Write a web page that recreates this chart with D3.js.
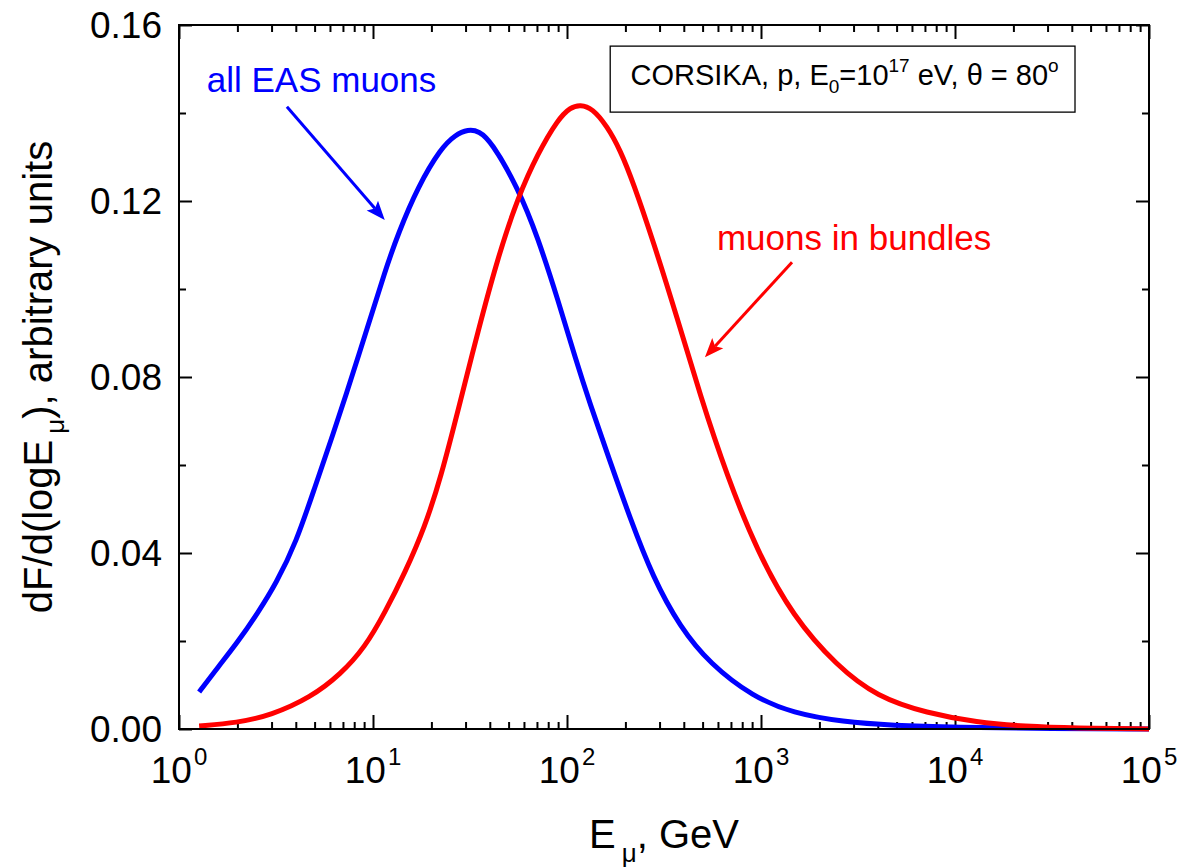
<!DOCTYPE html>
<html><head><meta charset="utf-8">
<script src="https://cdn.jsdelivr.net/npm/d3@7"></script>
<style>
body{margin:0;background:#fff}
text{font-family:"Liberation Sans",Arial,Helvetica,sans-serif}
</style>
</head><body>
<svg id="c" width="1179" height="868"></svg>
<script>
// ---- data ----
const blueE = [1.27, 1.59, 1.99, 2.55, 3.16, 4.01, 5.02, 6.08, 7.18, 9.42, 11.5, 13.5, 17.1, 22.4, 26.5, 30.9, 35.2, 40.6, 55.9, 70.9, 89.9, 111, 131, 167, 211, 277, 382, 546, 910, 1462, 2648, 4786, 10000, 31600, 100000];
const blueV = [0.0084, 0.0141, 0.0195, 0.0264, 0.0330, 0.0423, 0.0550, 0.0657, 0.0752, 0.0916, 0.1039, 0.1127, 0.1234, 0.1320, 0.1350, 0.1363, 0.1359, 0.1336, 0.1230, 0.1116, 0.0975, 0.0839, 0.0741, 0.0607, 0.0480, 0.0345, 0.0232, 0.0148, 0.0073, 0.0036, 0.0016, 0.0008, 0.0004, 0.0001, 0.0000];
const redE = [1.27, 1.99, 2.98, 4.79, 6.84, 9.10, 11.5, 14.6, 18.5, 22.4, 27.4, 34.8, 44.1, 55.9, 70.9, 89.9, 104, 117, 135, 161, 188, 219, 277, 369, 485, 668, 953, 1462, 2466, 3963, 7178, 12970, 22960, 41590, 100000];
const redV = [0.0007, 0.0014, 0.0031, 0.0072, 0.0125, 0.0186, 0.0264, 0.0355, 0.0459, 0.0573, 0.0723, 0.0905, 0.1073, 0.1209, 0.1309, 0.1386, 0.1413, 0.1419, 0.1411, 0.1370, 0.1316, 0.1243, 0.1111, 0.0936, 0.0759, 0.0575, 0.0405, 0.0255, 0.0143, 0.0073, 0.0036, 0.0015, 0.0006, 0.0002, 0.0000];
const yTicks = [0, 0.04, 0.08, 0.12, 0.16];
const yMinor = [0.02, 0.06, 0.10, 0.14];
const xTickExp = [0, 1, 2, 3, 4, 5];
const xTitle = ["E", "μ", ", GeV"];
const yTitle = ["dF/d(logE", "μ", "), arbitrary units"];
const labelBlue = "all EAS muons";
const labelRed = "muons in bundles";
// annotation anchors in data space [E, value]
const arrowBlue = [[3.6, 0.1414], [11.5, 0.1157]];
const arrowRed = [[1445, 0.1061], [514, 0.0845]];
const labelBluePos = [1.39, 0.1448];
const labelRedPos = [593, 0.1089];
const boxPos = [[167, 0.1552], [41550, 0.1402]];

// ---- layout ----
const L = 179, R = 1149, T = 25, B = 729;
const svg = d3.select("#c");
const x = d3.scaleLog().domain([1, 1e5]).range([L, R]);
const y = d3.scaleLinear().domain([0, 0.16]).range([B, T]);

const majorX = xTickExp.map(e => Math.pow(10, e));
const minorX = x.ticks().filter(t => {
  const lead = Math.round(t / Math.pow(10, Math.floor(Math.log10(t) + 1e-9)));
  return lead !== 1;
});

function styleAxis(g) {
  g.select(".domain").remove();
  g.selectAll(".tick line").attr("stroke", "#000").attr("stroke-width", 2);
  g.selectAll(".tick text").remove();
}
svg.append("g").attr("transform", `translate(0,${B})`)
  .call(d3.axisBottom(x).tickValues(majorX).tickSize(-14).tickSizeOuter(0)).call(styleAxis);
svg.append("g").attr("transform", `translate(0,${B})`)
  .call(d3.axisBottom(x).tickValues(minorX).tickSize(-7).tickSizeOuter(0)).call(styleAxis);
svg.append("g").attr("transform", `translate(0,${T})`)
  .call(d3.axisTop(x).tickValues(majorX).tickSize(-14).tickSizeOuter(0)).call(styleAxis);
svg.append("g").attr("transform", `translate(0,${T})`)
  .call(d3.axisTop(x).tickValues(minorX).tickSize(-7).tickSizeOuter(0)).call(styleAxis);
svg.append("g").attr("transform", `translate(${L},0)`)
  .call(d3.axisLeft(y).tickValues(yTicks).tickSize(-13).tickSizeOuter(0)).call(styleAxis);
svg.append("g").attr("transform", `translate(${L},0)`)
  .call(d3.axisLeft(y).tickValues(yMinor).tickSize(-7).tickSizeOuter(0)).call(styleAxis);
svg.append("g").attr("transform", `translate(${R},0)`)
  .call(d3.axisRight(y).tickValues(yTicks).tickSize(-13).tickSizeOuter(0)).call(styleAxis);
svg.append("g").attr("transform", `translate(${R},0)`)
  .call(d3.axisRight(y).tickValues(yMinor).tickSize(-7).tickSizeOuter(0)).call(styleAxis);

// tick labels
svg.append("g").selectAll("text").data(yTicks).join("text")
  .attr("x", L - 17).attr("y", d => y(d)).attr("dy", "0.35em")
  .attr("text-anchor", "end").attr("font-size", 37).attr("fill", "#000")
  .text(d => d3.format(".2f")(d));
const xl = svg.append("g").selectAll("text").data(xTickExp).join("text")
  .attr("x", d => x(Math.pow(10, d))).attr("y", 783)
  .attr("text-anchor", "middle").attr("font-size", 37).attr("fill", "#000");
xl.append("tspan").text("10");
xl.append("tspan").attr("font-size", 24).attr("dx", 2).attr("dy", -18).text(d => d);

// curves
const line = d3.line().x(d => x(d[0])).y(d => y(d[1])).curve(d3.curveBasis);
const plot = svg.append("g");
plot.append("path").datum(blueE.map((e, i) => [e, blueV[i]]))
  .attr("d", line).attr("fill", "none").attr("stroke", "#0000ff").attr("stroke-width", 5);
plot.append("path").datum(redE.map((e, i) => [e, redV[i]]))
  .attr("d", line).attr("fill", "none").attr("stroke", "#ff0000").attr("stroke-width", 5);

// frame
svg.append("rect").attr("x", L).attr("y", T).attr("width", R - L).attr("height", B - T)
  .attr("fill", "none").attr("stroke", "#000").attr("stroke-width", 2);

// arrows
function arrow(pts, color) {
  const x0 = x(pts[0][0]), y0 = y(pts[0][1]), x1 = x(pts[1][0]), y1 = y(pts[1][1]);
  const dx = x1 - x0, dy = y1 - y0, len = Math.hypot(dx, dy), ux = dx / len, uy = dy / len;
  const hl = 19, hw = 7.5;
  svg.append("line").attr("x1", x0).attr("y1", y0)
    .attr("x2", x1 - ux * (hl - 4)).attr("y2", y1 - uy * (hl - 4))
    .attr("stroke", color).attr("stroke-width", 3);
  const bx = x1 - ux * hl, by = y1 - uy * hl, nx = -uy, ny = ux;
  const nb = 4;
  svg.append("path")
    .attr("d", `M${x1},${y1} L${bx + nx * hw},${by + ny * hw} L${x1 - ux * (hl - nb)},${y1 - uy * (hl - nb)} L${bx - nx * hw},${by - ny * hw} Z`)
    .attr("fill", color);
}
arrow(arrowBlue, "#0000ff");
arrow(arrowRed, "#ff0000");

// labels
svg.append("text").attr("x", x(labelBluePos[0])).attr("y", y(labelBluePos[1]))
  .attr("font-size", 35).attr("fill", "#0000ff").text(labelBlue);
svg.append("text").attr("x", x(labelRedPos[0])).attr("y", y(labelRedPos[1]))
  .attr("font-size", 35).attr("fill", "#ff0000").text(labelRed);

// box
const bx0 = x(boxPos[0][0]), by0 = y(boxPos[0][1]), bx1 = x(boxPos[1][0]), by1 = y(boxPos[1][1]);
svg.append("rect").attr("x", bx0).attr("y", by0).attr("width", bx1 - bx0).attr("height", by1 - by0)
  .attr("fill", "#fff").attr("stroke", "#000").attr("stroke-width", 1.3);
const bt = svg.append("text").attr("x", (bx0 + bx1) / 2 + 2).attr("y", by0 + 39)
  .attr("text-anchor", "middle").attr("font-size", 29).attr("fill", "#000");
bt.append("tspan").text("CORSIKA, p, E");
bt.append("tspan").attr("font-size", 19).attr("dy", 8).text("0");
bt.append("tspan").attr("dy", -8).text("=10");
bt.append("tspan").attr("font-size", 19).attr("dy", -13).text("17");
bt.append("tspan").attr("dy", 13).text(" eV, θ = 80");
bt.append("tspan").attr("font-size", 19).attr("dy", -13).text("o");

// axis titles
const xt = svg.append("text").attr("x", (L + R) / 2).attr("y", 848)
  .attr("text-anchor", "middle").attr("font-size", 40).attr("fill", "#000");
xt.append("tspan").text(xTitle[0]);
xt.append("tspan").attr("font-size", 26).attr("dx", 6).attr("dy", 14).text(xTitle[1]);
xt.append("tspan").attr("dy", -14).text(xTitle[2]);

const yt = svg.append("text").attr("transform", `translate(52,${(T + B) / 2}) rotate(-90)`)
  .attr("text-anchor", "middle").attr("font-size", 40).attr("fill", "#000");
yt.append("tspan").text(yTitle[0]);
yt.append("tspan").attr("font-size", 26).attr("dx", 6).attr("dy", 12).text(yTitle[1]);
yt.append("tspan").attr("dy", -12).text(yTitle[2]);
</script>
</body></html>
